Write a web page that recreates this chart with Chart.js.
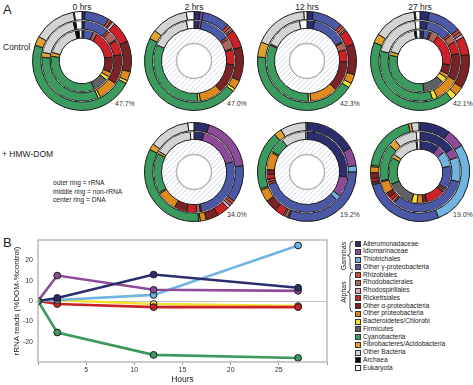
<!DOCTYPE html>
<html>
<head>
<meta charset="utf-8">
<script src="https://cdn.jsdelivr.net/npm/chart.js@4.4.0/dist/chart.umd.min.js"></script>
<style>
body{margin:0;background:#fff;font-family:"Liberation Sans",Arial,sans-serif;color:#222;}
#wrap{position:relative;width:473px;height:385px;overflow:hidden;}
.abs{position:absolute;white-space:nowrap;line-height:1;}
.hdr{font-size:8.5px;transform:translateX(-50%);}
.pct{font-size:7px;color:#333;}
.lab{font-size:8.5px;}
.leg{font-size:6.6px;}
.sw{position:absolute;width:6px;height:6px;border:0.6px solid #333;box-sizing:border-box;}
canvas{position:absolute;}
</style>
</head>
<body>
<div id="wrap">
  <div class="abs" style="left:3px;top:3px;font-size:13px;">A</div>
  <div class="abs" style="left:3px;top:236px;font-size:13px;">B</div>
  <div class="abs lab" style="left:3px;top:43px;">Control</div>
  <div class="abs lab" style="left:2px;top:150px;">+ HMW-DOM</div>
  <div class="abs" style="left:53px;top:179px;font-size:6.6px;line-height:8.6px;">outer ring = rRNA<br>middle ring = non-rRNA<br>center ring = DNA</div>
</div>
<script>
// ----------------------
// CATEGORIES / COLORS
// ----------------------
const taxa = ['Alteromonadaceae','Idiomarinaceae','Thiotrichales','Other γ-proteobacteria','Rhizobiales','Rhodobacterales','Rhodospirillales','Rickettsiales','Other α-proteobacteria','Other proteobacteria','Bacteroidetes/Chlorobi','Firmicutes','Cyanobacteria','Fibrobacteres/Acidobacteria','Other Bacteria','Archaea','Eukaryota'];
const taxaColors = ['#2c2d6c','#8d4a98','#72b4e1','#4a58a6','#d4472c','#b0655c','#e2a8c2','#cd2128','#7a2326','#df8a1f','#f3e032','#616161','#3b9a5d','#e0a22f','#d3d3d3','#000000','#ffffff'];

// ring values (% of reads), order = taxa
const ctrl0_rRNA    = [1,0,0,8,1,0.5,1,7,10,3,1,0,47.7,3,14,0.3,2.5];
const ctrl0_nonrRNA = [1,0,0,10,1,4,0.5,6,12,8,1,0,33,2,18,1,2.5];
const ctrl0_DNA     = [1,0,0,5,0,2,0,15,8,2.5,2,8,34,2,17,2,1.5];
const ctrl2_rRNA    = [2,1,0,9,1,1,0.5,6,11,3,1,0,47,3,12,0,2.5];
const ctrl2_nonrRNA = [2,1,0,12,1,4,0.5,6,12,9,1,0,33,0,15.5,0,3];
const ctrl12_rRNA    = [2,0,0,10,1,1,0.5,5,10,3,1.5,0,42.3,5,17.7,0,1];
const ctrl12_nonrRNA = [3,0,0,14,0.5,3,0,5,12,11,1,0,32,0.5,15,0,3];
const ctrl27_rRNA    = [3,0,0,11,1,1,1,6,11,3,2,0,42.1,3,14,0.4,1.5];
const ctrl27_nonrRNA = [3,0,0,10,1,3,0,5,11,10,2,0,34,0,19,0,2];
const ctrl27_DNA     = [2,0,0,3,1,4,0,17,5,2,3,11,30,2,17,1,2];
const dom2_rRNA     = [5,18,0,12,1,1,1,4,4,2,0.5,0,34,2,13.5,0,2];
const dom2_nonrRNA  = [4,17,0,26,0.5,1.5,0,4,5,8,0.5,0,16,1,15,0,1.5];
const dom12_rRNA    = [17,6,2,31,0.5,1,0.5,3,4,4,0.5,0,19.2,2.5,8.5,0,0.3];
const dom12_nonrRNA = [27,8,2,33,1,1,0,2,2,7,0.5,0,6,0,10,0,0.5];
const dom27_rRNA    = [10,6,28,27,0.5,0.5,0,1,2,2,0.5,0,19,1,2.5,0,0.3];
const dom27_nonrRNA = [15,4,10,32,0.5,1,0,1.5,2,5,0.5,0,15,3,9,0,1.5];
const dom27_DNA     = [10,4,8,12,1,1,0.5,10,2,3,3,14,14,2,13.5,0.5,1.5];

const ringTitles = ['0 hrs','2 hrs','12 hrs','27 hrs'];
const cyanoLabels = ['47.7%','47.0%','42.3%','42.1%','34.0%','19.2%','19.0%'];

// panel B: difference in rRNA reads
const hours = [0,2,12,27];
const lineCyano    = [0,-15.5,-26.5,-28];
const lineRicket   = [0,-1.5,-3,-3];
const lineBacter   = [0,0.4,-1.5,-2.5];
const lineThiot    = [0,0.5,3,27.3];
const lineIdiom    = [0,12.5,5.5,5];
const lineAlterom  = [0,1.5,13,6.5];

// ----------------------
// LAYOUT
// ----------------------
const wrap = document.getElementById('wrap');
const R = 50;
const panels = [
  {cx:82,  cy:61,  rings:[ctrl0_rRNA,ctrl0_nonrRNA,ctrl0_DNA], pct:cyanoLabels[0], title:ringTitles[0]},
  {cx:194, cy:61,  rings:[ctrl2_rRNA,ctrl2_nonrRNA], pct:cyanoLabels[1], title:ringTitles[1]},
  {cx:307, cy:61,  rings:[ctrl12_rRNA,ctrl12_nonrRNA], pct:cyanoLabels[2], title:ringTitles[2]},
  {cx:420, cy:61,  rings:[ctrl27_rRNA,ctrl27_nonrRNA,ctrl27_DNA], pct:cyanoLabels[3], title:ringTitles[3]},
  {cx:194, cy:172, rings:[dom2_rRNA,dom2_nonrRNA], pct:cyanoLabels[4]},
  {cx:307, cy:172, rings:[dom12_rRNA,dom12_nonrRNA], pct:cyanoLabels[5]},
  {cx:420, cy:172, rings:[dom27_rRNA,dom27_nonrRNA,dom27_DNA], pct:cyanoLabels[6]}
];

function el(tag, cls, style, text){
  const e = document.createElement(tag);
  if(cls) e.className = cls;
  e.style.cssText = style;
  if(text!==undefined) e.textContent = text;
  wrap.appendChild(e);
  return e;
}

function hatch(){
  const c = document.createElement('canvas'); c.width = c.height = 5;
  const x = c.getContext('2d');
  x.fillStyle = '#fff'; x.fillRect(0,0,5,5);
  x.strokeStyle = '#c9cfe2'; x.lineWidth = 0.8;
  x.beginPath();
  x.moveTo(0,5); x.lineTo(5,0);
  x.moveTo(-1,1); x.lineTo(1,-1);
  x.moveTo(4,6); x.lineTo(6,4);
  x.stroke();
  return x.createPattern(c,'repeat');
}
const hatchPat = hatch();

const ringStyle = {backgroundColor:taxaColors, borderColor:'#1b1b1b', borderWidth:1, weight:1};
const spacer = () => ({data:[1], backgroundColor:['#ffffff'], borderWidth:0, weight:0.1});

panels.forEach(p => {
  if(p.title) el('div','abs hdr',`left:${p.cx}px;top:3px;`,p.title);
  el('div','abs pct',`left:${p.cx+33}px;top:${p.cy+39}px;`,p.pct);
  const cv = el('canvas','',`left:${p.cx-R}px;top:${p.cy-R}px;width:${R*2}px;height:${R*2}px;`);
  cv.width = R*2; cv.height = R*2;
  const hasDNA = p.rings.length === 3;
  const ds = [
    Object.assign({data:p.rings[0]}, ringStyle), spacer(),
    Object.assign({data:p.rings[1]}, ringStyle)
  ];
  if(hasDNA){
    ds.push(spacer());
    ds.push(Object.assign({data:p.rings[2]}, ringStyle));
  } else {
    ds.push({data:[1], backgroundColor:[hatchPat], borderWidth:0, weight:1.75});
    ds.push({data:[1], backgroundColor:['#b5b5b5'], borderWidth:0, weight:0.2});
  }
  new Chart(cv, {
    type:'doughnut',
    data:{labels:taxa, datasets:ds},
    options:{
      responsive:false, animation:false, events:[],
      cutout: hasDNA ? '46%' : '34%',
      layout:{padding:0},
      plugins:{legend:{display:false}, tooltip:{enabled:false}}
    }
  });
});

// ----------------------
// PANEL B - LINE CHART
// ----------------------
const lcv = el('canvas','','left:12px;top:230px;width:323px;height:155px;');
lcv.width = 323; lcv.height = 155;
const pts = arr => hours.map((h,i) => ({x:h, y:arr[i]}));
const lineSet = (arr, col) => ({
  data:pts(arr), borderColor:col, backgroundColor:col, borderWidth:2.6,
  pointRadius:3.4, pointBackgroundColor:col, pointBorderColor:'#1b1b1b', pointBorderWidth:1,
  tension:0
});

const frame = {
  id:'frame',
  afterDraw(c){
    const {ctx, chartArea:a} = c;
    ctx.save();
    ctx.strokeStyle = '#b9b9b9'; ctx.lineWidth = 1.5;
    ctx.strokeRect(a.left, a.top, a.right-a.left, a.bottom-a.top);
    ctx.restore();
  }
};

new Chart(lcv, {
  type:'line',
  data:{datasets:[
    lineSet(lineCyano,'#3b9a5d'),
    lineSet(lineAlterom,'#2c2d6c'),
    lineSet(lineIdiom,'#8d4a98'),
    lineSet(lineThiot,'#72b4e1'),
    lineSet(lineRicket,'#cd2128'),
    lineSet(lineBacter,'#f3e032')
  ]},
  options:{
    responsive:false, animation:false, events:[],
    layout:{padding:{top:10,right:8,left:0,bottom:0}},
    plugins:{legend:{display:false}, tooltip:{enabled:false}},
    scales:{
      x:{type:'linear', min:0, max:30,
        afterFit(s){ s.height = 23; },
        border:{display:false},
        grid:{drawOnChartArea:false, tickLength:3, color:'#999'},
        ticks:{stepSize:5, padding:1, color:'#333', font:{size:7, family:'Liberation Sans'},
          callback:v => (v===0||v===30) ? '' : v},
        title:{display:true, text:'Hours', color:'#222', padding:{top:2,bottom:0}, font:{size:8.5, family:'Liberation Sans'}}
      },
      y:{min:-30, max:30,
        afterFit(s){ s.width = 26; },
        border:{display:false},
        grid:{color:ctx => ctx.tick && ctx.tick.value===0 ? '#c4c4c4' : 'rgba(0,0,0,0)', tickLength:3, lineWidth:1},
        ticks:{stepSize:10, padding:2, color:'#333', font:{size:7, family:'Liberation Sans'},
          callback:v => (v===30||v===-30) ? '' : v},
        title:{display:true, text:'rRNA reads (%DOM-%control)', color:'#222', padding:{top:0,bottom:1}, font:{size:8, family:'Liberation Sans'}}
      }
    }
  },
  plugins:[frame]
});

// ----------------------
// LEGEND
// ----------------------
const legX = 355, legY0 = 241, legStep = 7.75;
taxa.forEach((t,i) => {
  const y = legY0 + i*legStep;
  el('div','sw',`left:${legX}px;top:${y}px;background:${taxaColors[i]};`);
  el('div','abs leg',`left:${legX+8}px;top:${y-0.3}px;`,t);
});
// group braces
function brace(x, y1, y2){
  const ym = (y1+y2)/2;
  const svg = document.createElementNS('http://www.w3.org/2000/svg','svg');
  svg.setAttribute('width','473'); svg.setAttribute('height','385');
  svg.style.cssText = 'position:absolute;left:0;top:0;';
  const p = document.createElementNS('http://www.w3.org/2000/svg','path');
  p.setAttribute('d',`M${x+3},${y1} Q${x},${y1} ${x},${y1+4} L${x},${ym-3} Q${x},${ym} ${x-2.5},${ym} Q${x},${ym} ${x},${ym+3} L${x},${y2-4} Q${x},${y2} ${x+3},${y2}`);
  p.setAttribute('fill','none'); p.setAttribute('stroke','#222'); p.setAttribute('stroke-width','0.8');
  svg.appendChild(p); wrap.appendChild(svg);
}
brace(350, 241, 270);
brace(350, 272, 312);
el('div','abs leg',`left:343px;top:256px;font-size:7px;transform:translate(-50%,-50%) rotate(-90deg);`,'Gammas');
el('div','abs leg',`left:343px;top:292px;font-size:7px;transform:translate(-50%,-50%) rotate(-90deg);`,'Alphas');
</script>
</body>
</html>
